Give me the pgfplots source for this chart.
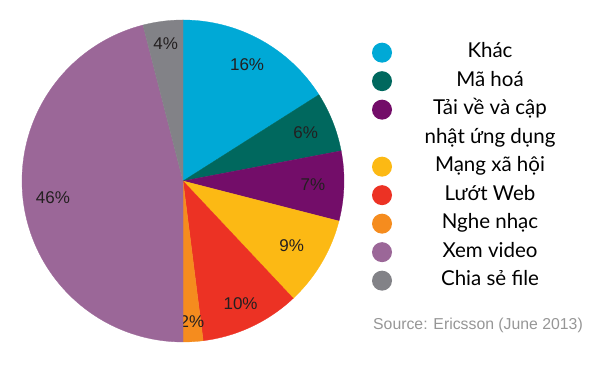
\documentclass[border=0pt]{standalone}
\usepackage{pgfplots}
\pgfplotsset{compat=1.18}
\usepackage{fontspec}
\setmainfont{Liberation Sans}
\newfontfamily\lato{Lato}
\definecolor{cKhac}{RGB}{0,169,214}
\definecolor{cMa}{RGB}{0,104,94}
\definecolor{cTai}{RGB}{115,13,105}
\definecolor{cMang}{RGB}{252,185,20}
\definecolor{cLuot}{RGB}{236,50,36}
\definecolor{cNghe}{RGB}{245,140,30}
\definecolor{cXem}{RGB}{155,103,152}
\definecolor{cChia}{RGB}{130,130,135}
\definecolor{pctc}{RGB}{35,31,32}
\definecolor{srcgray}{RGB}{150,150,150}
\newcommand\pctfont{\fontsize{17}{20}\selectfont}
\newcommand\legfont{\lato\fontsize{20.5}{28.5}\selectfont}
\newcommand\leg[1]{\parbox[t]{160pt}{\centering\strut #1\strut}}
\def\starta{90}
% #1 percent, #2 colour, #3 legend text, #4 label radius
\newcommand\slice[4]{%
  \pgfmathsetmacro\enda{\starta-3.6*#1}%
  \pgfmathsetmacro\mid{(\starta+\enda)/2}%
  \edef\doplot{\noexpand\addplot[fill=#2, draw=#2, line width=0.3pt, domain=\enda:\starta, samples=90] ({cos(x)},{sin(x)}) -- (axis cs:0,0) -- cycle;}%
  \doplot
  \addlegendentry{#3}%
  \edef\donode{\noexpand\node[font=\noexpand\pctfont, text=pctc, inner sep=0pt] at (axis cs:{#4*cos(\mid)},{#4*sin(\mid)}) {#1\noexpand\%};}%
  \donode
  \global\let\starta\enda
}
\begin{document}
\begin{tikzpicture}[x=1pt,y=1pt]
\useasboundingbox (0,0) rectangle (600,366);
\begin{axis}[
  at={(183pt,185pt)}, anchor=center,
  x=161pt, y=161pt,
  xmin=-1, xmax=1, ymin=-1, ymax=1,
  hide axis, clip=false,
  legend image code/.code={\fill[#1,draw=none] (10pt,5pt) circle (10pt);},
  legend style={draw=none, fill=none, inner sep=0pt, outer sep=0pt,
    at={(axis description cs:1.087,0.945)}, anchor=north west,
    font=\legfont, column sep=18pt, row sep=0pt,
    nodes={inner sep=0pt, text depth=, text height=},
    cells={anchor=base}},
]
\slice{16}{cKhac}{\leg{Khác}}{0.826}
\slice{6}{cMa}{\leg{Mã hoá}}{0.82}
\slice{7}{cTai}{\leg{Tải về và cập\\nhật ứng dụng}}{0.807}
\slice{9}{cMang}{\leg{Mạng xã hội}}{0.785}
\slice{10}{cLuot}{\leg{Lướt Web}}{0.84}
\slice{2}{cNghe}{\leg{Nghe nhạc}}{0.876}
\slice{46}{cXem}{\leg{Xem video}}{0.814}
\slice{4}{cChia}{\leg{Chia sẻ file}}{0.857}
\end{axis}
\node[anchor=base west, inner sep=0pt, text=srcgray, font=\fontsize{15.8}{18}\selectfont] at (373,36) {Source: Ericsson (June 2013)};
\end{tikzpicture}
\end{document}
